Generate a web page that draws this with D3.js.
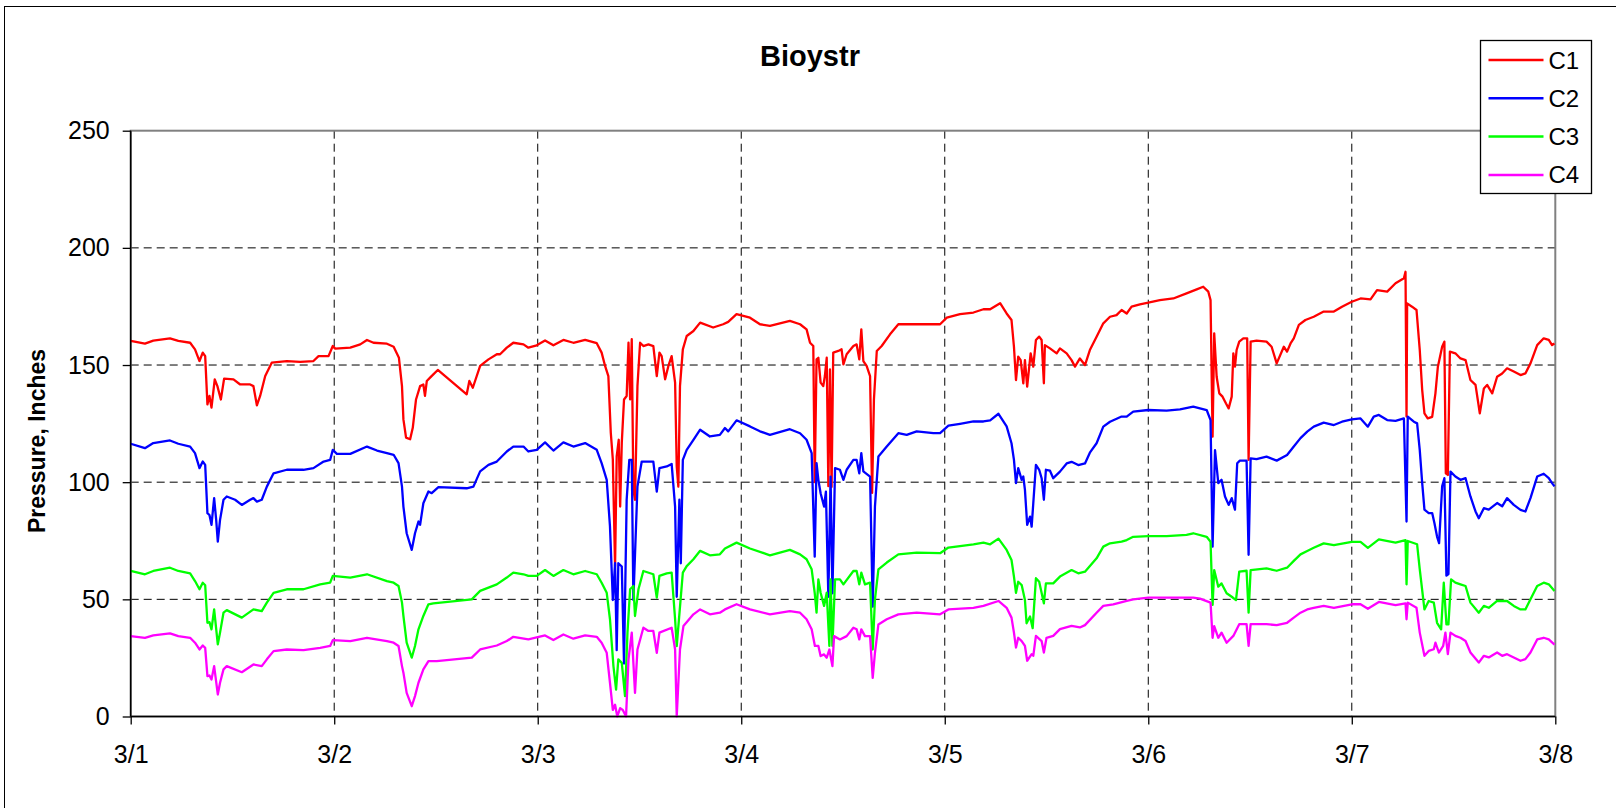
<!DOCTYPE html>
<html>
<head>
<meta charset="utf-8">
<script src="https://cdn.jsdelivr.net/npm/d3@7"></script>
<style>
    html, body { margin: 0; padding: 0; background: #fff; }
    svg { display: block; font-family: "Liberation Sans", Arial, sans-serif; }
</style>
</head>
<body>
<div id="chart-container"></div>
<script>
// [days since 3/1, pressure]
const c1 = [[0,160.3],[0.070,159.1],[0.111,160.4],[0.193,161.4],[0.234,160.3],[0.292,159.5],[0.316,156.7],[0.338,151.7],[0.354,155.3],[0.366,153.8],[0.377,133.2],[0.387,136.8],[0.397,131.8],[0.413,143.9],[0.426,141.0],[0.443,135.3],[0.459,144.2],[0.505,143.9],[0.538,141.7],[0.587,141.7],[0.603,141.0],[0.620,132.8],[0.636,136.8],[0.661,145.3],[0.693,151.0],[0.767,151.7],[0.833,151.3],[0.898,151.7],[0.923,153.8],[0.972,153.8],[0.993,158.1],[1.005,157.0],[1.079,157.4],[1.128,158.8],[1.161,160.7],[1.193,159.5],[1.259,159.1],[1.292,157.8],[1.318,153.1],[1.333,141.0],
    [1.340,126.8],[1.353,119.0],[1.373,118.3],[1.386,123.2],[1.402,135.3],[1.422,141.0],[1.438,141.7],[1.446,136.8],[1.455,143.2],[1.471,144.6],[1.487,146.0],[1.509,147.9],[1.651,137.5],[1.664,143.2],[1.681,140.3],[1.717,149.6],[1.758,152.4],[1.799,154.6],[1.815,154.6],[1.848,157.4],[1.880,159.5],[1.930,158.8],[1.954,157.4],[1.995,158.4],[2.036,160.5],[2.077,158.4],[2.126,160.7],[2.175,159.5],[2.233,160.7],[2.290,159.3],[2.314,155.3],[2.331,149.6],[2.347,145.3],[2.359,121.1],[2.369,109.7],[2.380,64.1],[2.388,111.0],[2.398,118.1],[2.405,89.6],[2.413,116.7],[2.424,135.3],[2.437,136.8],[2.446,159.5],[2.454,135.3],[2.462,161.0],[2.470,96.7],[2.478,92.5],[2.490,141.0],[2.503,159.5],[2.519,158.1],[2.544,158.8],[2.568,158.1],[2.585,145.3],[2.598,155.3],[2.609,153.8],[2.626,143.9],[2.642,149.6],[2.658,153.8],[2.675,142.5],[2.683,106.7],[2.691,98.1],[2.699,141.0],[2.713,156.7],[2.732,162.4],[2.765,164.5],[2.798,168.1],
    [2.862,166.0],[2.911,167.4],[2.936,168.4],[2.977,171.7],[3.043,170.2],[3.092,167.4],[3.141,166.7],[3.239,168.8],[3.289,167.4],[3.321,165.2],[3.338,159.5],[3.354,158.1],[3.361,100.0],[3.370,152.4],[3.379,153.1],[3.390,142.5],[3.403,141.0],[3.411,145.3],[3.420,153.1],[3.428,98.3],[3.436,148.1],[3.444,98.0],[3.452,155.3],[3.477,156.0],[3.493,156.7],[3.502,150.3],[3.518,154.6],[3.551,158.1],[3.567,158.8],[3.580,152.4],[3.590,165.2],[3.600,151.7],[3.616,149.6],[3.633,145.3],[3.643,95.4],[3.652,135.3],[3.666,156.0],[3.690,158.1],[3.731,163.1],[3.772,167.4],[3.846,167.4],[3.944,167.4],[3.977,167.4],[4.010,170.2],[4.075,171.7],[4.141,172.4],[4.190,173.8],[4.223,173.8],[4.272,176.4],
    [4.304,172.0],[4.328,169.2],[4.340,157.8],[4.350,143.6],[4.361,153.6],[4.373,152.1],[4.386,142.2],[4.394,152.1],[4.405,140.8],[4.422,155.0],[4.435,149.3],[4.448,160.7],[4.464,162.1],[4.476,160.7],[4.487,142.2],[4.492,158.5],[4.517,157.1],[4.550,155.0],[4.566,157.1],[4.599,155.0],[4.623,152.1],[4.640,149.3],[4.664,152.8],[4.689,150.0],[4.713,156.4],[4.746,162.1],[4.779,167.8],[4.812,170.6],[4.844,171.3],[4.869,173.5],[4.894,172.0],[4.918,174.9],[4.959,175.9],[5.000,176.6],[5.057,177.7],[5.123,178.4],[5.188,180.6],[5.238,182.3],[5.270,183.4],[5.295,181.3],[5.306,177.7],[5.316,119.4],[5.324,163.5],[5.336,145.0],[5.349,137.9],[5.365,136.5],[5.382,133.6],[5.395,131.5],[5.410,136.5],[5.418,155.0],[5.426,149.3],[5.434,156.4],[5.447,160.0],[5.467,161.4],[5.486,161.4],[5.493,109.5],[5.503,160.0],[5.532,160.4],[5.581,160.0],[5.606,157.8],[5.631,150.7],
    [5.666,157.8],[5.682,155.7],[5.699,159.2],[5.715,161.4],[5.740,167.1],[5.772,169.2],[5.813,170.6],[5.862,172.8],[5.912,172.8],[5.952,174.9],[6.000,177.0],[6.043,178.4],[6.092,178.0],[6.124,182.0],[6.174,181.3],[6.215,184.9],[6.256,187.0],[6.264,189.8],[6.269,128.0],[6.272,176.3],[6.296,174.9],[6.318,173.5],[6.334,156.4],[6.346,139.3],[6.357,129.4],[6.373,127.2],[6.395,127.9],[6.411,137.9],[6.423,149.3],[6.444,157.8],[6.455,160.0],[6.462,103.8],[6.472,103.1],[6.482,155.7],[6.509,155.0],[6.534,152.8],[6.559,152.1],[6.583,143.6],[6.608,141.5],[6.629,129.4],[6.649,140.0],[6.665,141.5],[6.690,137.9],[6.714,145.0],[6.739,146.4],[6.763,148.6],[6.796,147.2],[6.829,145.7],[6.853,146.4],[6.878,150.7],[6.911,158.5],[6.943,161.4],[6.968,160.7],[6.984,158.5],[6.996,159.2]];

const c2 = [[0,116.4],[0.070,114.5],[0.111,116.7],[0.193,117.8],[0.234,116.4],[0.292,115.2],[0.316,112.4],[0.338,106.0],[0.354,108.8],[0.366,107.4],[0.377,86.8],[0.387,86.0],[0.397,81.8],[0.410,93.2],[0.420,83.9],[0.428,74.6],[0.439,83.9],[0.456,92.5],[0.472,93.9],[0.513,92.5],[0.546,90.3],[0.587,92.5],[0.603,93.2],[0.620,91.7],[0.644,92.5],[0.669,98.1],[0.702,103.8],[0.767,105.3],[0.849,105.3],[0.898,106.0],[0.948,108.8],[0.980,109.5],[0.993,113.8],[1.013,112.1],[1.079,112.1],[1.161,115.2],[1.210,113.5],[1.259,112.4],[1.292,111.7],[1.316,108.1],[1.333,98.1],
    [1.340,89.6],[1.356,78.2],[1.381,71.1],[1.397,78.2],[1.414,83.2],[1.422,81.8],[1.438,91.0],[1.463,96.0],[1.479,95.3],[1.512,97.9],[1.651,97.4],[1.684,98.1],[1.717,104.6],[1.758,107.4],[1.799,108.8],[1.848,113.1],[1.880,115.2],[1.930,115.2],[1.954,113.1],[1.995,113.8],[2.036,117.0],[2.077,113.5],[2.126,117.0],[2.175,115.2],[2.233,116.7],[2.290,113.8],[2.314,108.1],[2.339,101.0],[2.355,81.1],[2.369,49.7],[2.380,65.4],[2.388,28.3],[2.396,65.4],[2.413,64.0],[2.424,22.6],[2.437,92.5],[2.450,109.5],[2.462,109.5],[2.470,49.7],[2.490,98.1],[2.511,108.8],[2.568,108.8],[2.585,96.0],[2.598,106.0],[2.634,106.7],[2.658,107.8],[2.675,89.6],[2.683,51.1],[2.696,92.5],[2.703,65.4],[2.713,109.5],[2.732,113.8],[2.765,118.1],[2.798,122.4],
    [2.846,119.5],[2.895,120.2],[2.920,123.1],[2.936,121.7],[2.977,126.4],[3.043,123.8],[3.092,121.7],[3.141,120.2],[3.239,122.6],[3.289,120.9],[3.321,118.1],[3.346,112.4],[3.361,68.2],[3.370,108.1],[3.379,101.0],[3.390,95.3],[3.407,89.6],[3.416,96.0],[3.428,51.1],[3.439,102.4],[3.448,52.6],[3.461,106.0],[3.485,105.3],[3.502,101.0],[3.518,105.3],[3.551,109.5],[3.567,109.5],[3.580,103.8],[3.590,112.4],[3.600,104.6],[3.633,102.4],[3.646,46.9],[3.657,89.6],[3.674,111.0],[3.715,115.2],[3.772,120.9],[3.813,120.2],[3.862,121.7],[3.944,120.9],[3.977,120.9],[4.018,124.1],[4.075,124.9],[4.141,125.9],[4.190,125.9],[4.223,126.4],[4.264,129.2],
    [4.304,123.8],[4.328,116.6],[4.340,109.5],[4.350,99.6],[4.361,106.0],[4.378,101.0],[4.386,102.4],[4.394,96.7],[4.405,81.8],[4.419,85.3],[4.427,81.0],[4.435,91.0],[4.448,107.4],[4.464,105.3],[4.476,101.7],[4.487,92.5],[4.497,105.3],[4.517,104.9],[4.533,101.7],[4.566,104.5],[4.599,108.0],[4.623,108.7],[4.656,107.3],[4.689,108.0],[4.713,112.6],[4.746,116.6],[4.779,123.7],[4.812,125.8],[4.869,128.0],[4.894,128.0],[4.926,130.1],[5.000,130.8],[5.090,130.5],[5.156,131.1],[5.221,132.2],[5.254,131.5],[5.287,130.8],[5.306,126.5],[5.316,72.5],[5.328,113.7],[5.344,99.6],[5.360,101.0],[5.377,93.9],[5.395,90.3],[5.410,93.2],[5.426,88.3],[5.437,108.1],[5.450,109.2],[5.483,109.2],[5.493,69.0],[5.503,110.2],[5.532,109.8],[5.581,110.9],[5.631,109.2],
    [5.682,111.6],[5.715,115.2],[5.748,118.8],[5.781,121.6],[5.813,123.7],[5.862,125.4],[5.912,124.4],[5.952,125.8],[6.000,126.8],[6.043,127.2],[6.079,123.7],[6.108,128.0],[6.133,128.7],[6.174,126.5],[6.215,126.2],[6.256,127.2],[6.269,83.2],[6.275,128.0],[6.305,125.8],[6.321,125.1],[6.334,113.7],[6.346,99.6],[6.357,88.3],[6.378,86.8],[6.395,86.8],[6.406,82.6],[6.419,76.8],[6.429,74.0],[6.444,98.2],[6.455,101.7],[6.465,60.1],[6.475,60.8],[6.485,104.5],[6.509,102.4],[6.534,101.0],[6.559,101.7],[6.583,93.9],[6.608,87.5],[6.624,84.6],[6.649,88.9],[6.673,88.3],[6.714,91.1],[6.739,89.7],[6.763,93.2],[6.796,90.3],[6.829,88.2],[6.853,87.5],[6.878,93.2],[6.911,102.4],[6.943,103.6],[6.968,101.7],[6.984,99.6],[6.996,98.2]];

const c3 = [[0,62.1],[0.070,60.7],[0.111,62.1],[0.193,63.5],[0.234,62.1],[0.292,61.1],[0.316,57.8],[0.338,54.3],[0.354,57.1],[0.366,56.0],[0.377,40.0],[0.387,40.3],[0.397,37.2],[0.410,45.7],[0.428,30.8],[0.439,35.8],[0.456,44.3],[0.472,45.4],[0.546,42.2],[0.603,45.7],[0.644,45.0],[0.669,48.6],[0.702,52.8],[0.767,54.3],[0.849,54.3],[0.931,56.4],[0.980,57.1],[0.993,60.0],[1.079,59.3],[1.161,60.7],[1.259,57.8],[1.292,57.1],[1.316,55.7],[1.333,48.6],
    [1.340,42.9],[1.356,31.5],[1.381,25.1],[1.397,30.1],[1.414,37.2],[1.438,42.9],[1.463,47.9],[1.487,48.3],[1.676,50.0],[1.717,53.6],[1.758,55.0],[1.799,56.4],[1.848,59.3],[1.880,61.4],[1.930,60.7],[1.954,60.0],[1.995,60.0],[2.036,62.5],[2.077,60.0],[2.126,62.5],[2.175,60.7],[2.233,62.1],[2.290,60.7],[2.314,57.1],[2.339,52.8],[2.355,41.5],[2.372,21.5],[2.385,11.5],[2.396,24.4],[2.413,22.9],[2.429,8.7],[2.441,35.8],[2.454,54.3],[2.470,55.7],[2.478,42.9],[2.495,54.3],[2.519,62.1],[2.568,60.7],[2.585,50.7],[2.598,60.0],[2.634,61.1],[2.658,61.4],[2.675,41.5],[2.683,30.0],[2.713,61.4],[2.732,64.2],[2.765,67.1],[2.798,70.7],
    [2.846,68.8],[2.895,69.2],[2.920,71.7],[2.977,74.2],[3.043,71.7],[3.141,68.8],[3.239,71.1],[3.289,69.2],[3.321,67.1],[3.346,62.8],[3.361,52.8],[3.370,44.3],[3.379,58.5],[3.390,52.8],[3.407,47.2],[3.420,52.8],[3.433,30.1],[3.439,58.5],[3.448,30.1],[3.461,58.5],[3.485,58.5],[3.502,56.4],[3.551,62.1],[3.567,62.1],[3.580,56.4],[3.590,61.4],[3.608,56.4],[3.633,57.1],[3.646,28.6],[3.657,50.0],[3.674,62.8],[3.715,65.7],[3.772,69.2],[3.862,69.9],[3.977,69.7],[4.018,72.1],[4.141,73.5],[4.190,74.2],[4.223,73.5],[4.264,75.9],
    [4.304,71.1],[4.328,66.8],[4.340,59.7],[4.350,52.8],[4.361,57.5],[4.378,56.1],[4.394,49.7],[4.402,39.8],[4.419,42.7],[4.432,37.7],[4.448,59.0],[4.464,57.5],[4.487,48.3],[4.497,56.8],[4.533,56.8],[4.566,59.7],[4.623,62.5],[4.656,61.1],[4.689,61.8],[4.746,67.5],[4.779,72.5],[4.812,73.9],[4.869,74.6],[4.894,75.3],[4.926,76.7],[5.000,77.0],[5.090,77.0],[5.188,77.5],[5.221,78.2],[5.287,76.7],[5.306,74.6],[5.316,47.6],[5.324,62.5],[5.344,55.4],[5.360,56.8],[5.385,52.6],[5.410,51.1],[5.431,49.7],[5.447,61.8],[5.483,62.2],[5.493,44.3],[5.503,62.5],[5.581,63.2],[5.631,62.2],
    [5.682,63.5],[5.715,66.4],[5.748,69.2],[5.781,70.6],[5.813,72.0],[5.862,73.9],[5.912,73.1],[6.000,74.5],[6.043,74.5],[6.079,72.0],[6.133,75.6],[6.215,74.2],[6.264,75.3],[6.269,56.4],[6.275,74.9],[6.321,73.5],[6.334,62.8],[6.357,45.7],[6.378,49.3],[6.403,48.6],[6.419,40.0],[6.439,37.2],[6.452,57.1],[6.465,39.3],[6.475,39.3],[6.488,58.5],[6.509,57.1],[6.534,56.4],[6.559,55.7],[6.583,48.6],[6.624,44.3],[6.649,47.2],[6.673,46.4],[6.714,49.3],[6.763,49.3],[6.796,47.2],[6.829,45.7],[6.853,45.7],[6.878,50.0],[6.911,55.7],[6.943,57.1],[6.968,56.4],[6.996,53.6]];

const c4 = [[0,34.3],[0.070,33.6],[0.111,34.6],[0.193,35.5],[0.234,34.3],[0.292,33.6],[0.316,31.5],[0.338,28.6],[0.354,30.3],[0.366,29.3],[0.377,17.2],[0.387,17.5],[0.397,15.8],[0.410,21.5],[0.428,9.4],[0.439,14.4],[0.456,20.1],[0.472,21.5],[0.546,18.9],[0.603,22.2],[0.644,21.5],[0.669,24.4],[0.702,27.9],[0.767,28.6],[0.849,28.3],[0.931,29.3],[0.980,30.1],[0.993,32.6],[1.079,32.2],[1.161,33.6],[1.259,32.2],[1.292,31.5],[1.316,30.1],[1.333,21.5],
    [1.340,18.7],[1.356,10.1],[1.381,4.4],[1.397,8.7],[1.414,14.4],[1.438,20.1],[1.463,23.6],[1.504,23.6],[1.676,25.1],[1.717,28.6],[1.799,30.3],[1.848,32.2],[1.880,34.0],[1.954,32.9],[2.036,34.6],[2.077,32.6],[2.126,35.0],[2.175,33.2],[2.233,34.6],[2.290,34.0],[2.314,31.5],[2.339,27.2],[2.355,14.4],[2.369,2.8],[2.380,5.0],[2.391,0],[2.405,3.6],[2.418,2.8],[2.434,0],[2.446,24.4],[2.462,35.8],[2.478,10.1],[2.490,28.6],[2.519,37.9],[2.544,36.5],[2.568,36.5],[2.585,27.2],[2.598,35.8],[2.658,37.9],[2.675,28.6],[2.683,0],[2.699,28.6],[2.716,38.6],[2.765,43.6],[2.798,45.7],
    [2.846,43.6],[2.895,44.3],[2.920,45.7],[2.977,47.9],[3.043,45.7],[3.141,43.6],[3.239,45.0],[3.289,44.3],[3.321,41.5],[3.346,37.2],[3.362,30.1],[3.379,30.1],[3.390,25.8],[3.407,26.5],[3.420,25.1],[3.433,28.6],[3.448,21.5],[3.456,34.3],[3.485,32.9],[3.518,34.3],[3.551,37.9],[3.567,37.2],[3.580,32.9],[3.590,37.2],[3.608,34.3],[3.633,34.3],[3.646,16.5],[3.657,27.2],[3.674,39.3],[3.715,41.5],[3.772,43.6],[3.862,44.3],[3.977,43.6],[4.018,45.7],[4.141,46.4],[4.190,47.2],[4.264,49.3],
    [4.304,46.4],[4.328,42.2],[4.340,35.8],[4.350,29.4],[4.361,33.6],[4.378,32.2],[4.394,30.1],[4.405,23.8],[4.427,26.6],[4.435,25.9],[4.448,34.4],[4.476,32.2],[4.487,27.3],[4.500,33.6],[4.533,34.4],[4.566,37.3],[4.623,38.7],[4.664,38.0],[4.689,39.0],[4.746,44.3],[4.779,47.2],[4.828,47.9],[4.894,49.3],[4.926,50.0],[5.000,50.7],[5.090,50.7],[5.221,50.7],[5.254,50.3],[5.306,48.6],[5.316,33.6],[5.324,38.6],[5.344,33.6],[5.360,35.8],[5.385,31.5],[5.418,34.4],[5.447,39.4],[5.483,39.4],[5.493,30.1],[5.503,39.4],[5.581,39.4],[5.631,39.0],
    [5.682,40.0],[5.715,42.2],[5.748,44.3],[5.781,45.7],[5.813,46.4],[5.862,47.2],[5.912,46.4],[6.000,47.9],[6.043,47.9],[6.079,46.0],[6.133,48.9],[6.215,47.5],[6.264,48.3],[6.269,41.5],[6.275,48.6],[6.318,46.4],[6.334,35.8],[6.357,25.9],[6.378,28.0],[6.403,28.7],[6.411,31.5],[6.428,27.3],[6.449,30.1],[6.460,35.8],[6.472,26.6],[6.485,35.8],[6.509,34.4],[6.534,33.6],[6.559,32.2],[6.583,27.3],[6.624,23.0],[6.649,25.9],[6.673,25.2],[6.714,27.3],[6.739,25.9],[6.763,26.6],[6.796,25.2],[6.829,23.8],[6.853,24.5],[6.878,27.3],[6.911,32.9],[6.943,33.6],[6.968,32.9],[6.996,30.7]];

const seriesNames = ["C1", "C2", "C3", "C4"];
const seriesColors = ["#ff0000", "#0000ff", "#00ff00", "#ff00ff"];
const xTickLabels = ["3/1", "3/2", "3/3", "3/4", "3/5", "3/6", "3/7", "3/8"];
const yTicks = [0, 50, 100, 150, 200, 250];

class PressureChart {
    constructor(container, series) {
        this.container = container;
        this.series = series;
        this.W = 1616;
        this.H = 808;
        // plot area in page pixels
        this.left = 130.7;
        this.right = 1555.3;
        this.top = 130.7;
        this.bottom = 716.5;
        this.initChart();
    }

    initChart() {
        this.svg = d3.select(this.container)
            .append("svg")
            .attr("width", this.W)
            .attr("height", this.H);

        this.svg.append("rect")
            .attr("width", this.W).attr("height", this.H)
            .attr("fill", "#fff");

        // outer chart border (runs off right/bottom edges)
        this.svg.append("rect")
            .attr("x", 4.5).attr("y", 6.5)
            .attr("width", this.W + 10).attr("height", this.H + 10)
            .attr("fill", "none")
            .attr("stroke", "#000")
            .attr("stroke-width", 1);

        this.x = d3.scaleLinear().domain([0, 7]).range([this.left, this.right]);
        this.y = d3.scaleLinear().domain([0, 250]).range([this.bottom, this.top]);

        this.render();
    }

    render() {
        const { x, y } = this;
        const plotW = this.right - this.left;
        const plotH = this.bottom - this.top;

        // dashed grid
        const grid = this.svg.append("g").attr("class", "grid");
        grid.selectAll("line.h")
            .data(yTicks.filter(d => d > 0 && d < 250))
            .join("line")
            .attr("class", "h")
            .attr("x1", this.left).attr("x2", this.right)
            .attr("y1", d => y(d)).attr("y2", d => y(d));
        grid.selectAll("line.v")
            .data(d3.range(1, 7))
            .join("line")
            .attr("class", "v")
            .attr("x1", d => x(d)).attr("x2", d => x(d))
            .attr("y1", this.top).attr("y2", this.bottom);
        grid.selectAll("line")
            .attr("stroke", "#000")
            .attr("stroke-width", 1)
            .attr("stroke-dasharray", "8,5");

        // plot area frame
        this.svg.append("rect")
            .attr("x", this.left).attr("y", this.top)
            .attr("width", plotW).attr("height", plotH)
            .attr("fill", "none")
            .attr("stroke", "#808080")
            .attr("stroke-width", 2);

        // series
        const line = d3.line()
            .x(d => x(d[0]))
            .y(d => y(d[1]));

        this.svg.append("g")
            .selectAll("path")
            .data(this.series)
            .join("path")
            .attr("d", d => line(d.values))
            .attr("fill", "none")
            .attr("stroke", d => d.color)
            .attr("stroke-width", 2.3)
            .attr("stroke-linejoin", "round");

        // axes
        const yAxis = this.svg.append("g")
            .attr("transform", `translate(${this.left},0)`)
            .call(d3.axisLeft(y).tickValues(yTicks).tickSize(8).tickPadding(13));
        const xAxis = this.svg.append("g")
            .attr("transform", `translate(0,${this.bottom})`)
            .call(d3.axisBottom(x).tickValues(d3.range(8)).tickSize(8).tickPadding(21)
                .tickFormat(i => xTickLabels[i]));

        [yAxis, xAxis].forEach(ax => {
            ax.select(".domain").attr("stroke", "#000").attr("stroke-width", 1.5);
            ax.selectAll(".tick line").attr("stroke", "#000").attr("stroke-width", 1.3);
            ax.selectAll(".tick text")
                .attr("fill", "#000")
                .style("font-size", "25px")
                .style("font-family", "'Liberation Sans', Arial, sans-serif");
        });
        xAxis.select(".domain").attr("d", `M${this.left},0H${this.right}`);
        yAxis.select(".domain").attr("d", `M0,${this.bottom}V${this.top}`);

        // title
        this.svg.append("text")
            .attr("x", 810).attr("y", 66)
            .attr("text-anchor", "middle")
            .style("font-size", "29px")
            .style("font-weight", "bold")
            .text("Bioystr");

        // y axis title
        this.svg.append("text")
            .attr("transform", "translate(45,441) rotate(-90)")
            .attr("text-anchor", "middle")
            .style("font-size", "23px")
            .style("font-weight", "bold")
            .text("Pressure, Inches");

        this.drawLegend();
    }

    drawLegend() {
        const lg = this.svg.append("g").attr("transform", "translate(1480.5,40.5)");
        lg.append("rect")
            .attr("width", 111).attr("height", 153)
            .attr("fill", "#fff")
            .attr("stroke", "#000")
            .attr("stroke-width", 1.3);

        const rows = lg.selectAll("g.item")
            .data(this.series)
            .join("g")
            .attr("class", "item")
            .attr("transform", (d, i) => `translate(0,${19.5 + i * 38.3})`);
        rows.append("line")
            .attr("x1", 8).attr("x2", 63)
            .attr("stroke", d => d.color)
            .attr("stroke-width", 2.5);
        rows.append("text")
            .attr("x", 68).attr("y", 8.5)
            .style("font-size", "24px")
            .text(d => d.name);
    }
}

const series = [c1, c2, c3, c4].map((values, i) => ({
    name: seriesNames[i],
    color: seriesColors[i],
    values: values
}));

new PressureChart("#chart-container", series);
</script>
</body>
</html>
